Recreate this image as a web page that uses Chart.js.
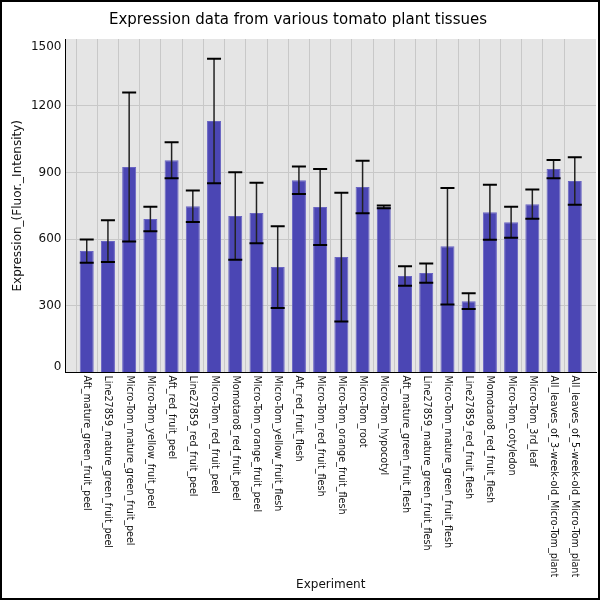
<!DOCTYPE html>
<html>
<head>
<meta charset="utf-8">
<script src="https://cdn.jsdelivr.net/npm/chart.js@4"></script>
<style>
  body { margin: 0; background: #fff; }
  #chart { display: block; }
</style>
</head>
<body>
<canvas id="chart" width="600" height="600"></canvas>
<script>
// Dados do grafico
const tissues = [
  'Aft_mature_green_fruit_peel',
  'Line27859_mature_green_fruit_peel',
  'Micro-Tom_mature_green_fruit_peel',
  'Micro-Tom_yellow_fruit_peel',
  'Aft_red_fruit_peel',
  'Line27859_red_fruit_peel',
  'Micro-Tom_red_fruit_peel',
  'Momotaro8_red_fruit_peel',
  'Micro-Tom_orange_fruit_peel',
  'Micro-Tom_yellow_fruit_flesh',
  'Aft_red_fruit_flesh',
  'Micro-Tom_red_fruit_flesh',
  'Micro-Tom_orange_fruit_flesh',
  'Micro-Tom_root',
  'Micro-Tom_hypocotyl',
  'Aft_mature_green_fruit_flesh',
  'Line27859_mature_green_fruit_flesh',
  'Micro-Tom_mature_green_fruit_flesh',
  'Line27859_red_fruit_flesh',
  'Momotaro8_red_fruit_flesh',
  'Micro-Tom_cotyledon',
  'Micro-Tom_3rd_leaf',
  'All_leaves_of_3-week-old_Micro-Tom_plant',
  'All_leaves_of_5-week-old_Micro-Tom_plant'
];
const expression = [546, 591, 924, 690, 955, 748, 1131, 704, 717, 474, 865, 744,
                    519, 834, 745, 434, 447, 568, 321, 721, 676, 757, 915, 861];
const errors = [52, 94, 335, 55, 81, 71, 280, 197, 136, 184, 62, 171,
                290, 118, 6, 44, 43, 262, 35, 124, 70, 66, 41, 107];
const yTicks = [0, 300, 600, 900, 1200, 1500];

const FONT = 'DejaVu Sans';
const X_MAX = tissues.length + 1;
const Y_MAX = yTicks[yTicks.length - 1];

// Fundo cinza da area do grafico
const plotBackground = {
  id: 'plotBackground',
  beforeDraw(chart) {
    const { ctx, chartArea: a } = chart;
    ctx.save();
    ctx.fillStyle = '#e5e5e5';
    ctx.fillRect(a.left, a.top, a.right - a.left, a.bottom - a.top);
    ctx.restore();
  }
};

// Barras de erro
const errorBars = {
  id: 'errorBars',
  afterDatasetsDraw(chart) {
    const { ctx } = chart;
    const y = chart.scales.y;
    const meta = chart.getDatasetMeta(0);
    ctx.save();
    meta.data.forEach((bar, i) => {
      const top = y.getPixelForValue(expression[i] + errors[i]);
      const bottom = y.getPixelForValue(expression[i] - errors[i]);
      const half = bar.width / 2;
      ctx.strokeStyle = '#222';
      ctx.lineWidth = 1.5;
      ctx.beginPath();
      ctx.moveTo(bar.x, top);
      ctx.lineTo(bar.x, bottom);
      ctx.stroke();
      ctx.strokeStyle = '#000';
      ctx.lineWidth = 2;
      ctx.beginPath();
      ctx.moveTo(bar.x - half, top);
      ctx.lineTo(bar.x + half, top);
      ctx.moveTo(bar.x - half, bottom);
      ctx.lineTo(bar.x + half, bottom);
      ctx.stroke();
    });
    ctx.restore();
  }
};

// Rotulos dos eixos e moldura
const axisLabels = {
  id: 'axisLabels',
  afterDraw(chart) {
    const { ctx, chartArea: a } = chart;
    const x = chart.scales.x;
    const y = chart.scales.y;
    ctx.save();
    ctx.fillStyle = '#111';

    // rotulos do eixo y (os extremos ficam dentro da area)
    ctx.font = '12px ' + FONT;
    ctx.textAlign = 'right';
    ctx.textBaseline = 'middle';
    yTicks.forEach(v => {
      let py = y.getPixelForValue(v);
      py = Math.min(Math.max(py, a.top + 8), a.bottom - 6);
      ctx.fillText(String(v), a.left - 4, py);
    });

    // rotulos do eixo x, girados no sentido horario
    ctx.font = '9.6px ' + FONT;
    ctx.textAlign = 'left';
    ctx.textBaseline = 'middle';
    tissues.forEach((name, i) => {
      const px = x.getPixelForValue(i + 1);
      ctx.save();
      ctx.translate(px, a.bottom + 3);
      ctx.rotate(Math.PI / 2);
      ctx.fillText(name, 0, 0);
      ctx.restore();
    });

    // moldura
    ctx.strokeStyle = '#000';
    ctx.lineWidth = 2;
    ctx.strokeRect(1, 1, chart.width - 2, chart.height - 2);
    ctx.restore();
  }
};

function gridColor(edge) {
  return c => {
    const v = c.tick ? c.tick.value : null;
    return (v === 0 || v === edge) ? 'rgba(0,0,0,0)' : '#c8c8c8';
  };
}

const ctx = document.getElementById('chart').getContext('2d');

const chart = new Chart(ctx, {
  type: 'bar',
  data: {
    datasets: [{
      data: expression.map((v, i) => ({ x: i + 1, y: v })),
      backgroundColor: 'rgb(75, 70, 180)',
      borderColor: 'rgb(105, 100, 195)',
      borderWidth: 1,
      categoryPercentage: 1,
      barPercentage: 0.66
    }]
  },
  options: {
    responsive: false,
    animation: false,
    devicePixelRatio: 1,
    layout: { padding: { top: 0, right: 4, bottom: 0, left: 0 } },
    plugins: {
      legend: { display: false },
      tooltip: { enabled: false },
      title: {
        display: true,
        text: 'Expression data from various tomato plant tissues',
        color: '#000',
        font: { family: FONT, size: 15, weight: 'normal' },
        padding: { top: 11, bottom: 10 }
      }
    },
    scales: {
      x: {
        type: 'linear',
        min: 0,
        max: X_MAX,
        offset: false,
        afterFit(scale) { scale.height = 227.5; },
        ticks: { display: false, stepSize: 1 },
        grid: { drawTicks: false, lineWidth: 1, color: gridColor(X_MAX) },
        border: { display: true, color: '#000', width: 1 },
        title: {
          display: true,
          text: 'Experiment',
          color: '#111',
          font: { family: FONT, size: 12 },
          padding: { top: 0, bottom: 8 }
        }
      },
      y: {
        type: 'linear',
        min: 0,
        max: Y_MAX,
        afterFit(scale) { scale.width = 65.5; },
        ticks: { display: false, stepSize: 300 },
        grid: { drawTicks: false, lineWidth: 1, color: gridColor(Y_MAX) },
        border: { display: true, color: '#000', width: 1 },
        title: {
          display: true,
          text: 'Expression_(Fluor._Intensity)',
          color: '#111',
          font: { family: FONT, size: 12 },
          padding: { top: 11, bottom: 0 }
        }
      }
    }
  },
  plugins: [plotBackground, errorBars, axisLabels]
});
</script>
</body>
</html>
